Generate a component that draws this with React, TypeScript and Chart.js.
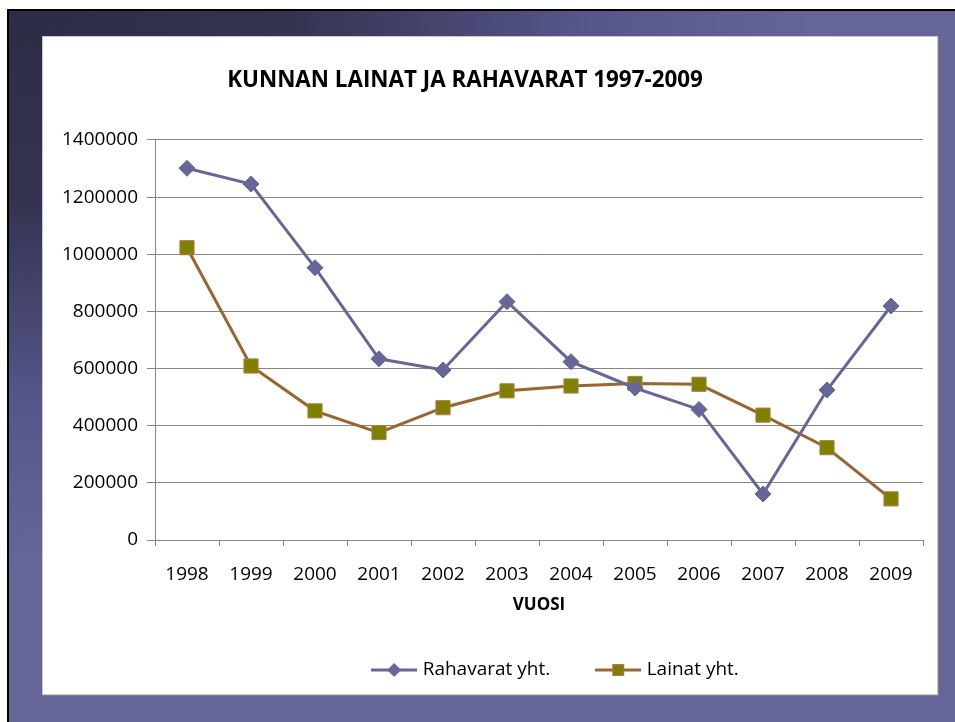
import React, { useEffect, useRef } from "react";
import { Chart, registerables } from "chart.js";

Chart.register(...registerables);

const TITLE = "KUNNAN LAINAT JA RAHAVARAT 1997-2009";
const X_TITLE = "VUOSI";
const years = ["1998", "1999", "2000", "2001", "2002", "2003", "2004", "2005", "2006", "2007", "2008", "2009"];
const rahavaratLabel = "Rahavarat yht.";
const lainatLabel = "Lainat yht.";
const rahavarat = [1301000, 1246000, 953000, 634000, 595000, 834000, 624000, 532000, 457000, 161000, 525000, 819000];
const lainat = [1023000, 609000, 452000, 376000, 463000, 522000, 539000, 548000, 545000, 437000, 323000, 144000];
const yMin = 0;
const yMax = 1400000;
const yStep = 200000;

const BLUE = "#666699";
const BROWN = "#996633";
const OLIVE = "#808000";
const SQUARE_BORDER = "#b07a48";
const GRID = "#868686";
const FONT = "'Open Sans', 'Liberation Sans', sans-serif";

function makeIcon(kind: "diamond" | "square"): HTMLCanvasElement {
  const c = document.createElement("canvas");
  c.width = 46;
  c.height = 20;
  const ctx = c.getContext("2d")!;
  ctx.strokeStyle = kind === "diamond" ? BLUE : BROWN;
  ctx.lineWidth = 3;
  ctx.beginPath();
  ctx.moveTo(0, 10);
  ctx.lineTo(46, 10);
  ctx.stroke();
  if (kind === "diamond") {
    ctx.fillStyle = BLUE;
    ctx.beginPath();
    ctx.moveTo(23, 3);
    ctx.lineTo(30, 10);
    ctx.lineTo(23, 17);
    ctx.lineTo(16, 10);
    ctx.closePath();
    ctx.fill();
  } else {
    ctx.fillStyle = OLIVE;
    ctx.fillRect(17, 4, 12, 12);
    ctx.strokeStyle = SQUARE_BORDER;
    ctx.lineWidth = 1;
    ctx.strokeRect(17.5, 4.5, 11, 11);
  }
  return c;
}

export default function App() {
  const ref = useRef<HTMLCanvasElement | null>(null);

  useEffect(() => {
    if (!ref.current) return;
    const icons = [makeIcon("diamond"), makeIcon("square")];
    const shiftPlugin = {
      id: "shiftBlocks",
      afterLayout(chart: any) {
        const t = chart.titleBlock;
        if (t) {
          t.left -= 18;
          t.right -= 18;
        }
        const l = chart.legend;
        if (l) {
          l.left += 74;
          l.right += 74;
        }
      },
    };
    const chart = new Chart(ref.current, {
      type: "line",
      data: {
        labels: years,
        datasets: [
          {
            label: rahavaratLabel,
            data: rahavarat,
            borderColor: BLUE,
            backgroundColor: BLUE,
            borderWidth: 3,
            pointStyle: "rectRot",
            pointRadius: 8,
            pointBackgroundColor: BLUE,
            pointBorderColor: BLUE,
            pointBorderWidth: 1,
            tension: 0,
          },
          {
            label: lainatLabel,
            data: lainat,
            borderColor: BROWN,
            backgroundColor: OLIVE,
            borderWidth: 3,
            pointStyle: "rect",
            pointRadius: 10,
            pointBackgroundColor: OLIVE,
            pointBorderColor: SQUARE_BORDER,
            pointBorderWidth: 1,
            tension: 0,
          },
        ],
      },
      options: {
        responsive: false,
        animation: false,
        layout: { padding: { left: 0, right: 14, top: 0, bottom: 4.5 } },
        plugins: {
          title: {
            display: true,
            text: TITLE,
            color: "#000",
            font: { family: FONT, size: 22.4, weight: "bold" },
            padding: { top: 30, bottom: 46.1 },
          },
          legend: {
            display: true,
            position: "bottom",
            labels: {
              usePointStyle: true,
              pointStyleWidth: 38,
              padding: 49,
              color: "#000",
              font: { family: FONT, size: 19 },
              generateLabels: (c: any) => {
                const items = (Chart.defaults.plugins.legend.labels as any).generateLabels(c);
                return items.map((it: any, i: number) => ({ ...it, pointStyle: icons[i] }));
              },
            },
          },
          tooltip: { enabled: false },
        },
        scales: {
          x: {
            type: "category",
            offset: true,
            afterFit: (s: any) => {
              s.height = 71.5;
            },
            grid: {
              offset: true,
              drawOnChartArea: false,
              drawTicks: true,
              tickLength: 6,
              color: GRID,
            },
            border: { color: GRID, width: 1 },
            ticks: {
              color: "#000",
              font: { family: FONT, size: 19 },
              padding: 17.4,
              maxRotation: 0,
              autoSkip: false,
            },
            title: {
              display: true,
              text: X_TITLE,
              color: "#000",
              font: { family: FONT, size: 17, weight: "bold" },
              padding: { top: 0, bottom: -3.4 },
            },
          },
          y: {
            min: yMin,
            max: yMax,
            afterFit: (s: any) => {
              s.width = 112;
            },
            grid: {
              color: GRID,
              drawTicks: true,
              tickLength: 8,
            },
            border: { color: GRID, width: 1 },
            ticks: {
              stepSize: yStep,
              color: "#000",
              font: { family: FONT, size: 19 },
              padding: 9,
              callback: (v: any) => String(v),
            },
          },
        },
      },
      plugins: [shiftPlugin],
    });
    return () => chart.destroy();
  }, []);

  return (
    <div
      style={{
        position: "absolute",
        left: 7,
        top: 9,
        width: 948,
        height: 713,
        boxSizing: "border-box",
        borderTop: "2px solid #000",
        borderLeft: "2px solid #000",
        background:
          "radial-gradient(ellipse 820px 560px at 0 0, #2c2c46 0%, #343452 35%, #56568a 70%, #666699 100%)",
        overflow: "hidden",
      }}
    >
      <div
        style={{
          position: "absolute",
          left: 33,
          top: 25,
          width: 896,
          height: 659,
          boxSizing: "border-box",
          background: "#fff",
          border: "1px solid #c8c8c8",
          boxShadow: "1px 1px 0 #7f7f7f",
        }}
      >
        <canvas ref={ref} width={894} height={657} style={{ display: "block", width: 894, height: 657 }} />
      </div>
    </div>
  );
}
